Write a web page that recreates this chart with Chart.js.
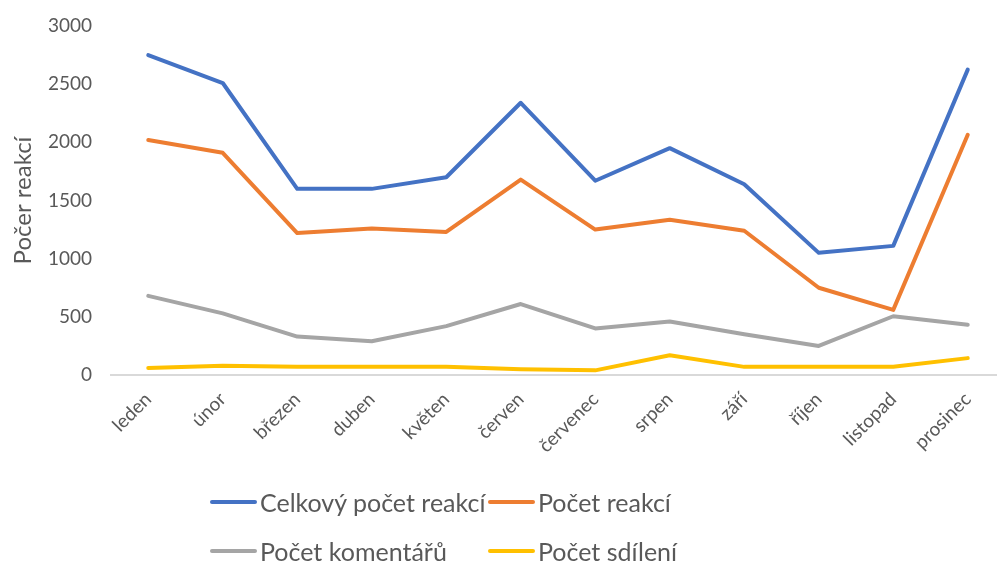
<!DOCTYPE html>
<html lang="cs">
<head>
<meta charset="utf-8">
<title>Počet reakcí</title>
<script src="https://cdn.jsdelivr.net/npm/chart.js@4.4.0/dist/chart.umd.min.js"></script>
<style>
    html, body { margin: 0; padding: 0; background: #fff; overflow: hidden; }
    #wrap { position: relative; width: 997px; height: 561px; overflow: hidden; }
    #box { position: absolute; left: 0; top: 0; width: 1010px; height: 561px; }
    #legend { position: absolute; left: 210px; top: 484px; display: grid; grid-template-columns: 278px 260px; row-gap: 13px;
              font-family: Lato, "Open Sans", sans-serif; font-size: 25px; color: #595959; }
    .item { display: flex; align-items: center; height: 36px; white-space: nowrap; }
    .swatch { width: 47px; height: 4px; border-radius: 2px; margin-right: 3px; }
</style>
</head>
<body>
<div id="wrap">
    <div id="box"><canvas id="chartReakce"></canvas></div>
    <div id="legend"></div>
</div>

<script>
// ==================== DATA ====================

const mesice = ['leden', 'únor', 'březen', 'duben', 'květen', 'červen', 'červenec', 'srpen', 'září', 'říjen', 'listopad', 'prosinec'];

const celkovyPocet = [2750, 2510, 1600, 1600, 1700, 2340, 1670, 1950, 1640, 1050, 1110, 2625];
const pocetReakci = [2020, 1910, 1220, 1260, 1230, 1680, 1250, 1335, 1240, 750, 560, 2065];
const pocetKomentaru = [680, 530, 330, 290, 420, 610, 400, 460, 350, 250, 505, 432];
const pocetSdileni = [60, 80, 70, 70, 70, 50, 40, 170, 70, 70, 70, 145];

const nazvySerii = ['Celkový počet reakcí', 'Počet reakcí', 'Počet komentářů', 'Počet sdílení'];
const barvy = ['#4472C4', '#ED7D31', '#A5A5A5', '#FFC000'];

const FONT = 'Lato, "Open Sans", sans-serif';

document.addEventListener('DOMContentLoaded', function () {
    const chart = initChart();
    renderLegend(chart);
});

function initChart() {
    const ctx = document.getElementById('chartReakce');
    const serie = [celkovyPocet, pocetReakci, pocetKomentaru, pocetSdileni];

    return new Chart(ctx, {
        type: 'line',
        data: {
            labels: mesice,
            datasets: serie.map((data, i) => ({
                label: nazvySerii[i],
                data: data,
                borderColor: barvy[i],
                backgroundColor: barvy[i],
                borderWidth: 4,
                borderCapStyle: 'round',
                borderJoinStyle: 'round',
                pointRadius: 0,
                tension: 0
            }))
        },
        options: {
            responsive: true,
            maintainAspectRatio: false,
            animation: false,
            layout: { padding: { top: 26, left: 0, right: 5, bottom: 86 } },
            plugins: {
                legend: { display: false },
                tooltip: { enabled: false }
            },
            scales: {
                x: {
                    offset: true,
                    grid: { display: false },
                    border: { display: true, color: '#d9d9d9', width: 2 },
                    ticks: {
                        color: '#595959',
                        font: { family: FONT, size: 19 },
                        minRotation: 45,
                        maxRotation: 45,
                        padding: 5,
                        autoSkip: false
                    },
                    // vyska osy pevne, aby plocha grafu koncila na y=375
                    afterFit: scale => { scale.height = 100; }
                },
                y: {
                    min: 0,
                    max: 3000,
                    grid: { display: false, drawTicks: false },
                    border: { display: false },
                    ticks: {
                        stepSize: 500,
                        color: '#595959',
                        font: { family: FONT, size: 19 },
                        padding: 19,
                        callback: value => String(value)
                    },
                    title: {
                        display: true,
                        text: 'Počer reakcí',
                        color: '#595959',
                        font: { family: FONT, size: 24 },
                        padding: { top: 9, bottom: 0 }
                    },
                    afterFit: scale => {
                        scale.width = 111;
                        // padding labelu nema posouvat horni okraj plochy
                        scale.paddingTop = 12;
                        scale.paddingBottom = 12;
                    }
                }
            }
        }
    });
}

function renderLegend(chart) {
    const legend = document.getElementById('legend');
    legend.innerHTML = chart.data.datasets.map(ds => `
        <div class="item">
            <span class="swatch" style="background:${ds.borderColor}"></span>
            <span>${ds.label}</span>
        </div>`).join('');
}
</script>
</body>
</html>
